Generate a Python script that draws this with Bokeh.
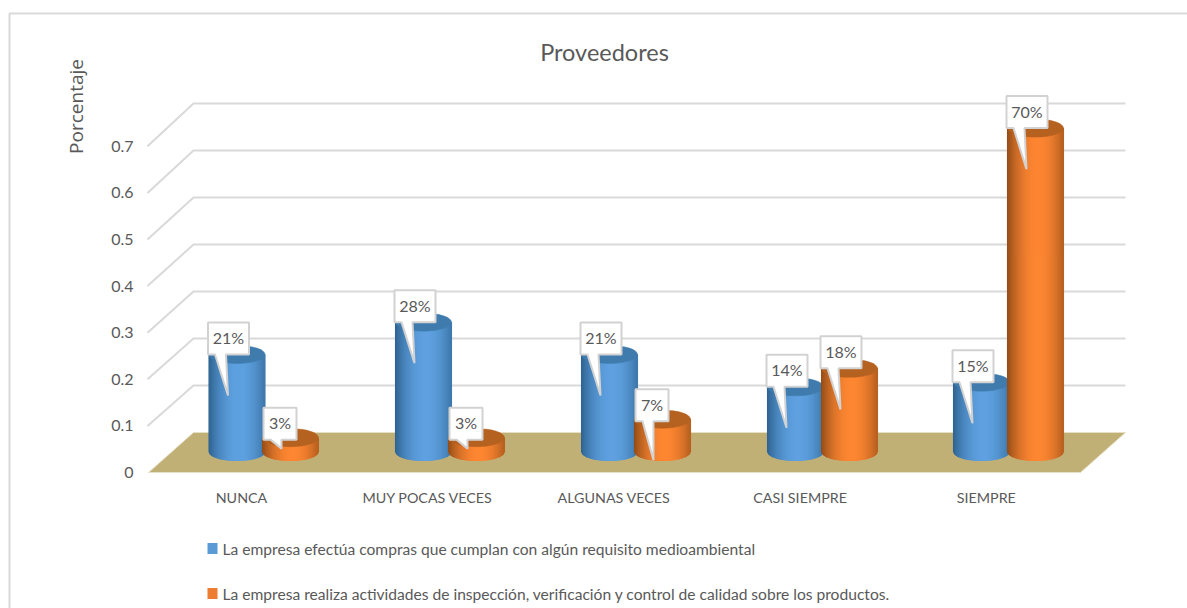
import math
from bokeh.embed import file_html
from bokeh.models import FixedTicker, LinearAxis, Range1d
from bokeh.plotting import figure
from bokeh.resources import INLINE
from bokeh.core.properties import value

# ---- chart values -------------------------------------------------------
categories = ["NUNCA", "MUY POCAS VECES", "ALGUNAS VECES", "CASI SIEMPRE", "SIEMPRE"]
compras_medioambiental = [0.21, 0.28, 0.21, 0.14, 0.15]
inspeccion_calidad = [0.03, 0.03, 0.07, 0.18, 0.70]
y_ticks = [0, 0.1, 0.2, 0.3, 0.4, 0.5, 0.6, 0.7]
title_text = "Proveedores"
y_title = "Porcentaje"
legend_blue = "La empresa efectúa compras que cumplan con algún requisito medioambiental"
legend_orange = "La empresa realiza actividades de inspección, verificación y control de calidad  sobre los productos."

# ---- canvas scales: x is the category index, y is the percentage share ---
W, H = 1187, 608
STEP = 186.2          # pixels between categories
X0 = 241              # pixel of the first category
UNIT = 466            # pixels for a share of 1.0 on the front plane
Y0 = 472              # pixel of the zero on the front plane


def dx(px):
    return px / STEP


def dy(px):
    return px / UNIT


def xp(px):
    return (px - X0) / STEP


def yp(px):
    return (Y0 - px) / UNIT


FONT = value("Lato")
TEXT = "#595959"
GRID = "#d9d9d9"
FLOOR = "#c1b076"

p = figure(
    width=W, height=H, output_backend="svg", toolbar_location=None,
    x_range=Range1d(xp(0), xp(W)), y_range=Range1d(yp(H), yp(0)),
    min_border=0, min_border_left=0, min_border_right=0, min_border_top=0, min_border_bottom=0,
    x_axis_type=None, y_axis_type=None, outline_line_color=None,
    background_fill_color="white", border_fill_color="white",
)
p.grid.visible = False

# Axes sit on the canvas edge, their labels pulled inwards next to the walls.
y_axis = LinearAxis(
    ticker=FixedTicker(ticks=y_ticks),
    major_label_overrides={0: "0"},
    axis_line_color=None, major_tick_line_color=None, minor_tick_line_color=None,
    major_tick_in=0, major_tick_out=0,
    major_label_standoff=-133,
    major_label_text_font="Lato", major_label_text_font_size="16px",
    major_label_text_color=TEXT,
)
p.add_layout(y_axis, "left")
x_axis = LinearAxis(
    ticker=FixedTicker(ticks=list(range(len(categories)))),
    major_label_overrides={i: c for i, c in enumerate(categories)},
    axis_line_color=None, major_tick_line_color=None, minor_tick_line_color=None,
    major_tick_in=0, major_tick_out=0,
    major_label_standoff=-120,
    major_label_text_font="Lato", major_label_text_font_size="14.3px",
    major_label_text_color=TEXT,
)
p.add_layout(x_axis, "below")

# Outer frame of the chart area: left edge and top edge
p.line(
    [xp(9), xp(9), xp(W)], [yp(H), yp(13), yp(13)],
    line_color=GRID, line_width=2,
)

# Back wall and side wall gridlines
WALL_L, WALL_B, WALL_R = 147, 193, 1125
for t in y_ticks:
    if t == 0:
        continue
    back_y = yp(432) + t * 470 / UNIT
    p.line([xp(WALL_L), xp(WALL_B), xp(WALL_R)], [t, back_y, back_y], line_color=GRID, line_width=2)

# Floor
p.patch(
    [xp(148), xp(193), xp(1125), xp(1080)], [0, yp(432), yp(432), 0],
    fill_color=FLOOR, line_color="#e6dfc4", line_width=1,
)

# Cylinders: vertical strips give the rounded shading
BASE = yp(451)        # centre of the bar foot
BAR_SCALE = 462 / UNIT
RX, RY = 28.0, 9.0
BLUE = dict(edge=(46, 98, 144), mid=(94, 161, 224), cap="#3f7bac")
ORANGE = dict(edge=(146, 76, 24), mid=(253, 134, 50), cap="#b5611f")


def lerp(a, b, s):
    return "#%02x%02x%02x" % tuple(round(a[i] + (b[i] - a[i]) * s) for i in range(3))


def cylinder(center_px, share, style):
    top = BASE + share * BAR_SCALE
    n = 56
    xs, ys, colors = [], [], []
    for k in range(n):
        t0, t1 = -1 + 2 * k / n, -1 + 2 * (k + 1) / n
        mid = (t0 + t1) / 2
        s = 1 - (abs(mid - 0.1) / 1.1) ** 2.0
        low0 = dy(RY) * math.sqrt(max(0, 1 - t0 * t0))
        low1 = dy(RY) * math.sqrt(max(0, 1 - t1 * t1))
        x0 = xp(center_px + RX * t0)
        x1 = xp(center_px + RX * t1)
        xs.append([x0, x1, x1, x0])
        ys.append([BASE - low0, BASE - low1, top - low1, top - low0])
        colors.append(lerp(style["edge"], style["mid"], s))
    p.patches(xs, ys, fill_color=colors, line_color=colors, line_width=1.1)
    p.ellipse([xp(center_px)], [top], width=dx(2 * RX), height=dy(2 * RY),
              fill_color=style["cap"], line_color=style["cap"], line_width=0.5)
    return top


def callout(center_px, top, share):
    label = f"{round(share * 100)}%"
    w = 33 if share < 0.1 else 41
    left = center_px - (27 if share < 0.1 else 29)
    box_top = Y0 - top * UNIT - (30 if share < 0.1 else 32)
    box_bot = box_top + 32
    tip_len = 11 if share < 0.05 else 41
    tip_x = center_px - 9
    tip_y = Y0 - top * UNIT + tip_len
    px_x = [left, left + w, left + w, left + 18, tip_x, left + 7, left, left]
    px_y = [box_top, box_top, box_bot, box_bot, tip_y, box_bot, box_bot, box_top]
    p.patch([xp(v) for v in px_x], [yp(v) for v in px_y],
            fill_color="white", line_color="#d2d2d2", line_width=2)
    p.text([xp(left + w / 2)], [yp((box_top + box_bot) / 2 - 1)], text=[label],
           text_font=FONT, text_font_size="16px", text_color=TEXT,
           text_align="center", text_baseline="middle")


blue_centers = [236.5, 423, 609, 795, 981]
orange_centers = [290, 476, 662, 849, 1035]
blue_tops = [cylinder(c, v, BLUE) for c, v in zip(blue_centers, compras_medioambiental)]
orange_tops = [cylinder(c, v, ORANGE) for c, v in zip(orange_centers, inspeccion_calidad)]
for c, t, v in zip(blue_centers, blue_tops, compras_medioambiental):
    callout(c, t, v)
for c, t, v in zip(orange_centers, orange_tops, inspeccion_calidad):
    callout(c, t, v)

# Title and vertical axis caption
p.text([xp(604)], [yp(51)], text=[title_text], text_font=FONT, text_font_size="23.5px",
       text_color=TEXT, text_align="center", text_baseline="middle")
p.text([xp(75)], [yp(106)], text=[y_title], text_font=value("Open Sans"), text_font_size="19px",
       text_color=TEXT, text_align="center", text_baseline="middle", angle=math.pi / 2)

# Legend
for y_px, color, label in [(548, "#5b9bd5", legend_blue), (593, "#ed7d31", legend_orange)]:
    p.quad(left=[xp(207)], right=[xp(217)], top=[yp(y_px - 5.5)], bottom=[yp(y_px + 5.5)],
           fill_color=color, line_color=None)
    p.text([xp(222)], [yp(y_px)], text=[label], text_font=FONT, text_font_size="15.6px",
           text_color=TEXT, text_align="left", text_baseline="middle")

open("out.html", "w").write(file_html(p, INLINE))
